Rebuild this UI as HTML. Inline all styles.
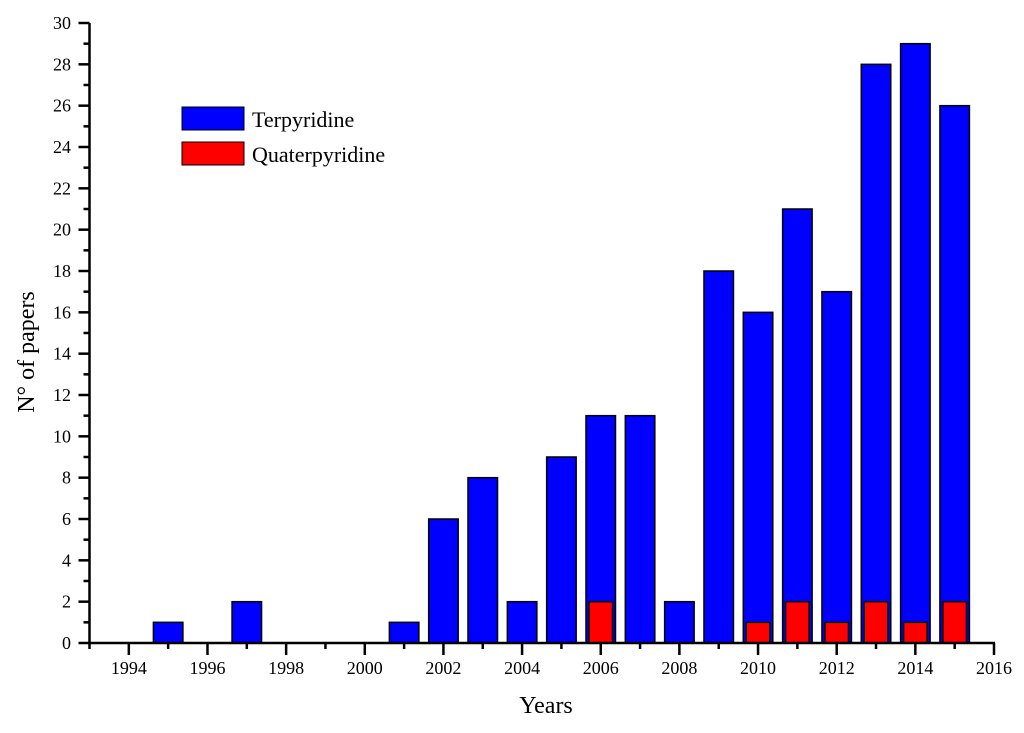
<!DOCTYPE html>
<html><head><meta charset="utf-8"><style>
body{margin:0;background:#fff}
svg text{font-family:"Liberation Serif",serif;fill:#000}
</style></head><body>
<svg id="chart" width="1024" height="728" xmlns="http://www.w3.org/2000/svg"></svg>
<script>
const years=[1995,1997,2001,2002,2003,2004,2005,2006,2007,2008,2009,2010,2011,2012,2013,2014,2015];
const terpyridine=[1,2,1,6,8,2,9,11,11,2,18,16,21,17,28,29,26];
const quaterYears=[2006,2010,2011,2012,2013,2014,2015];
const quaterpyridine=[2,1,2,1,2,1,2];
const xTicks=[1994,1996,1998,2000,2002,2004,2006,2008,2010,2012,2014,2016];
const yTicks=[0,2,4,6,8,10,12,14,16,18,20,22,24,26,28,30];

const NS="http://www.w3.org/2000/svg";
const svg=document.getElementById('chart');
const X0=89.5,X1=994,Y0=643,Y1=23,XMIN=1993,XMAX=2016,YMAX=30;
const x=v=>X0+(v-XMIN)*(X1-X0)/(XMAX-XMIN);
const y=v=>Y0-v*(Y0-Y1)/YMAX;
const pxYear=(X1-X0)/(XMAX-XMIN);
function el(t,a,txt){const e=document.createElementNS(NS,t);for(const k in a)e.setAttribute(k,a[k]);if(txt!==undefined)e.textContent=txt;svg.appendChild(e);return e;}

years.forEach((yr,i)=>{
  const w=pxYear*0.75;
  const r=el('rect',{x:x(yr)-w/2,y:y(terpyridine[i]),width:w,height:Y0-y(terpyridine[i]),fill:'#0000ff',stroke:'#000','stroke-width':1.5});
  
  
});
quaterYears.forEach((yr,i)=>{
  const w=pxYear*0.6;
  const r=el('rect',{x:x(yr)-w/2,y:y(quaterpyridine[i]),width:w,height:Y0-y(quaterpyridine[i]),fill:'#ff0000',stroke:'#000','stroke-width':1.5});
  
  
});

const xa=el('line',{x1:X0,y1:Y0,x2:X1+1,y2:Y0,stroke:'#000','stroke-width':2.5});


const ya=el('line',{x1:X0,y1:Y0+1,x2:X0,y2:Y1,stroke:'#000','stroke-width':2.5});



for(let v=XMIN;v<=XMAX;v++){
  const major=xTicks.includes(v);
  el('line',{x1:x(v),y1:Y0,x2:x(v),y2:Y0+(major?12:6),stroke:'#000','stroke-width':2.5});
}
xTicks.forEach(v=>{
  const t=el('text',{x:x(v),y:Y0+31,'font-size':18,'text-anchor':'middle'},v);
  
  
});
for(let v=0;v<=YMAX;v++){
  const major=yTicks.includes(v);
  el('line',{x1:X0,y1:y(v),x2:X0-(major?11:6),y2:y(v),stroke:'#000','stroke-width':2.5});
}
yTicks.forEach(v=>{
  const t=el('text',{x:71,y:y(v)+6,'font-size':18,'text-anchor':'end'},v);
  
  
});
</script>
<svg style="position:absolute;left:0;top:0" width="1024" height="728" xmlns="http://www.w3.org/2000/svg">
<text x="546" y="713" font-size="24" text-anchor="middle" font-family="Liberation Serif, serif">Years</text>
<text transform="translate(34,352) rotate(-90)" font-size="24" text-anchor="middle" font-family="Liberation Serif, serif">N° of papers</text>
<g>
<rect x="182" y="107" width="62" height="23" fill="#0000ff" stroke="#000" stroke-width="1"/>
<text x="252" y="127" font-size="22" font-family="Liberation Serif, serif">Terpyridine</text>
<rect x="182" y="142" width="62" height="23" fill="#ff0000" stroke="#000" stroke-width="1"/>
<text x="252" y="162" font-size="22" font-family="Liberation Serif, serif">Quaterpyridine</text>
</g>
</svg>
</body></html>
